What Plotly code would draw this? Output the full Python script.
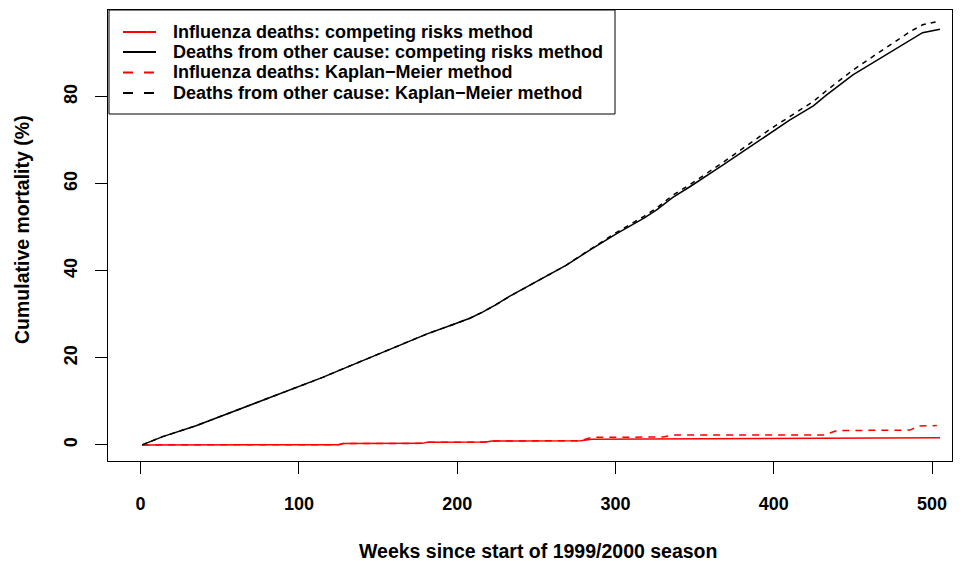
import plotly.graph_objects as go

# Cumulative mortality by week since the start of the 1999/2000 season
weeks_other_cr = [1, 14, 35, 56, 78, 98, 115, 124, 145, 158, 181, 197, 208, 216, 224, 233, 252, 269, 284,
                  301, 318, 326, 336, 347, 368, 379, 389, 398, 410, 425, 433, 450, 467, 486, 494, 505]
cr_other = [0, 1.9, 4.4, 7.3, 10.3, 13.0, 15.5, 16.9, 20.1, 22.0, 25.5, 27.6, 29.1, 30.5, 32.1, 34.1, 37.9, 41.3, 44.8,
            48.6, 52.1, 54.0, 56.8, 59.3, 64.3, 67.0, 69.6, 71.8, 74.6, 77.9, 80.3, 85.0, 88.8, 93.0, 94.7, 95.5]

weeks_other_km = [1, 14, 35, 56, 78, 98, 115, 124, 145, 158, 181, 197, 208, 216, 224, 233, 252, 269, 284,
                  301, 318, 326, 336, 347, 368, 379, 389, 398, 410, 425, 433, 450, 467, 486, 494, 503]
km_other = [0, 1.9, 4.4, 7.3, 10.3, 13.0, 15.5, 16.9, 20.1, 22.0, 25.5, 27.6, 29.1, 30.5, 32.1, 34.1, 37.9, 41.3, 44.9,
            48.9, 52.5, 54.4, 57.3, 59.8, 64.9, 67.7, 70.4, 72.6, 75.4, 78.9, 81.3, 86.1, 90.3, 94.9, 96.5, 97.2]

weeks_flu_cr = [1, 125, 128, 178, 181, 218, 222, 278, 285, 340, 435, 445, 505]
cr_flu = [0, 0.05, 0.3, 0.35, 0.6, 0.65, 0.9, 0.95, 1.3, 1.35, 1.45, 1.6, 1.65]

weeks_flu_km = [1, 125, 128, 178, 181, 218, 222, 278, 285, 330, 336, 432, 440, 486, 492, 503]
km_flu = [0, 0.05, 0.3, 0.35, 0.6, 0.65, 0.9, 0.95, 1.75, 1.8, 2.25, 2.3, 3.3, 3.4, 4.35, 4.45]

x_ticks = [0, 100, 200, 300, 400, 500]
y_ticks = [0, 20, 40, 60, 80]

series_names = [
    "Influenza deaths: competing risks method",
    "Deaths from other cause: competing risks method",
    "Influenza deaths: Kaplan\u2212Meier method",
    "Deaths from other cause: Kaplan\u2212Meier method",
]
series_colors = ["#ff0000", "#000000", "#ff0000", "#000000"]
series_dashes = ["solid", "solid", "7px,6px", "5px,5px"]

FONT = "Liberation Sans, Arial, Helvetica, sans-serif"

# plot area in pixels
W, H = 962, 561
L, R, T, B = 108, 10, 10, 100
PW, PH = W - L - R, H - T - B


def px_x(p):
    return (p - L) / PW


def px_y(p):
    return (H - B - p) / PH


fig = go.Figure()
curves = [(weeks_flu_cr, cr_flu), (weeks_other_cr, cr_other),
          (weeks_flu_km, km_flu), (weeks_other_km, km_other)]
for (xs, ys), name, col, dash in zip(curves, series_names, series_colors, series_dashes):
    fig.add_trace(go.Scatter(x=xs, y=ys, mode="lines", name=name, showlegend=False,
                             line=dict(color=col, width=1.5, dash=dash)))

axis_common = dict(
    showgrid=False, zeroline=False, showline=True, linecolor="black", linewidth=1,
    mirror=True, ticks="outside", ticklen=12, tickwidth=1, tickcolor="black",
    tickfont=dict(family=FONT, size=18, color="black", weight="bold"),
)

fig.update_xaxes(range=[-20.6, 512.6], tickvals=x_ticks, ticklabelstandoff=14, **axis_common)
fig.update_yaxes(range=[-3.7, 99.9], tickvals=y_ticks, tickangle=-90, ticklabelstandoff=11, **axis_common)

title_font = dict(family=FONT, size=19.5, color="black", weight="bold")
fig.add_annotation(text="Weeks since start of 1999/2000 season", xref="paper", yref="paper",
                   x=px_x(538), y=px_y(551), xanchor="center", yanchor="middle", showarrow=False,
                   font=title_font)
fig.add_annotation(text="Cumulative mortality (%)", xref="paper", yref="paper",
                   x=px_x(22), y=px_y(230), xanchor="center", yanchor="middle", textangle=-90,
                   showarrow=False, font=title_font)

# legend box in the top-left corner of the plot
fig.add_shape(type="rect", xref="paper", yref="paper", layer="above",
              x0=px_x(109), x1=px_x(615), y0=px_y(114), y1=px_y(10),
              line=dict(color="black", width=1), fillcolor="white")
legend_rows = [32, 52, 72.5, 93]
legend_dashes = ["solid", "solid", "10px,11px", "10px,11px"]
for row, name, col, dash in zip(legend_rows, series_names, series_colors, legend_dashes):
    fig.add_shape(type="line", xref="paper", yref="paper", layer="above",
                  x0=px_x(123), x1=px_x(156), y0=px_y(row), y1=px_y(row),
                  line=dict(color=col, width=2, dash=dash))
    fig.add_annotation(text=name, xref="paper", yref="paper", x=px_x(171), y=px_y(row),
                       xanchor="left", yanchor="middle", showarrow=False,
                       font=dict(family=FONT, size=18, color="black", weight="bold"))

fig.update_layout(
    width=W, height=H,
    margin=dict(l=L, r=R, t=T, b=B),
    paper_bgcolor="white", plot_bgcolor="white",
    font=dict(family=FONT, color="black"),
    showlegend=False,
)

fig.write_html("out.html")
